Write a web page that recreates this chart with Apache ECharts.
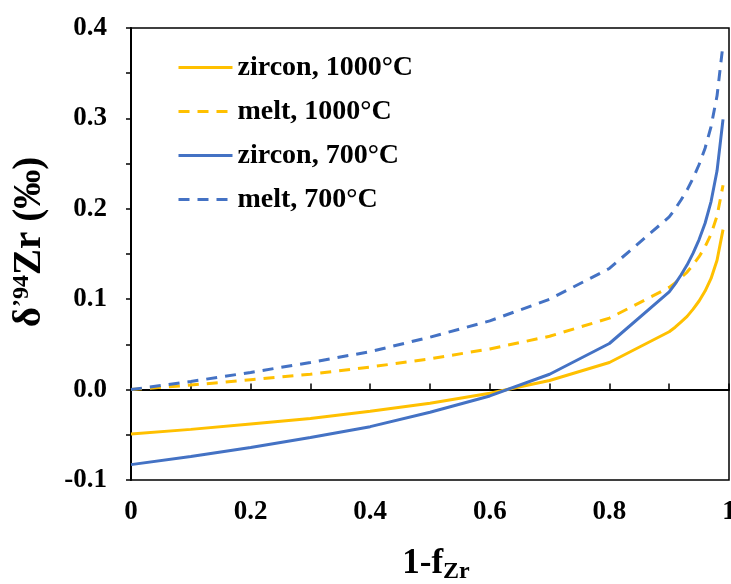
<!DOCTYPE html>
<html>
<head>
<meta charset="utf-8">
<script src="https://cdn.jsdelivr.net/npm/echarts@6/dist/echarts.min.js"></script>
<style>
html,body{margin:0;padding:0;background:#fff;}
#chart{width:731px;height:584px;}
</style>
</head>
<body>
<div id="chart"></div>
<script>
// x values: 1 - f_Zr
var xValues = [0, 0.1, 0.2, 0.3, 0.4, 0.5, 0.6, 0.7, 0.8, 0.9, 0.91, 0.92, 0.93, 0.94, 0.95, 0.96, 0.97, 0.98, 0.99];
// series values
var zircon1000 = [-0.049, -0.044, -0.038, -0.032, -0.024, -0.015, -0.004, 0.010, 0.030, 0.064, 0.069, 0.075, 0.081, 0.089, 0.098, 0.109, 0.123, 0.143, 0.177];
var melt1000   = [0, 0.005, 0.011, 0.017, 0.025, 0.034, 0.045, 0.059, 0.079, 0.113, 0.118, 0.124, 0.130, 0.138, 0.147, 0.158, 0.172, 0.192, 0.226];
var zircon700  = [-0.083, -0.074, -0.064, -0.053, -0.041, -0.025, -0.007, 0.017, 0.051, 0.108, 0.117, 0.127, 0.138, 0.151, 0.166, 0.184, 0.208, 0.242, 0.299];
var melt700    = [0, 0.009, 0.019, 0.030, 0.042, 0.058, 0.076, 0.100, 0.134, 0.191, 0.200, 0.210, 0.221, 0.234, 0.249, 0.267, 0.291, 0.325, 0.382];
var seriesNames = ['zircon, 1000°C', 'melt, 1000°C', 'zircon, 700°C', 'melt, 700°C'];

function pairs(ys) { return xValues.map(function (x, i) { return [x, ys[i]]; }); }

var FONT = '"Liberation Serif", "Times New Roman", serif';
var YELLOW = '#FFC000', BLUE = '#4472C4';

function mkSeries(name, ys, color, dashed, extra) {
  var s = {
    name: name, type: 'line', data: pairs(ys), symbol: 'none', showSymbol: false, smooth: false,
    lineStyle: { color: color, width: 3, type: dashed ? [11, 8] : 'solid', cap: 'butt' },
    itemStyle: { color: color }, z: 3
  };
  if (extra) for (var k in extra) s[k] = extra[k];
  return s;
}

var chart = echarts.init(document.getElementById('chart'), null, { renderer: 'canvas' });
chart.setOption({
  animation: false,
  backgroundColor: '#fff',
  grid: { left: 131, right: 2, top: 28, bottom: 104, outerBoundsMode: 'none', containLabel: false,
          show: true, borderColor: '#000', borderWidth: 1.5, backgroundColor: 'transparent' },
  legend: {
    orient: 'vertical', left: 172, top: 48, itemWidth: 54, itemHeight: 14, itemGap: 15,
    itemStyle: { color: 'rgba(0,0,0,0)', borderWidth: 0, opacity: 0 },
    lineStyle: { width: 3 },
    textStyle: { fontFamily: FONT, fontWeight: 'bold', fontSize: 28, color: '#000', lineHeight: 29 },
    data: seriesNames
  },
  xAxis: {
    type: 'value', min: 0, max: 1, interval: 0.1,
    axisLine: { show: true, lineStyle: { color: '#000', width: 2 } },
    axisTick: { show: true, inside: true, length: 6, lineStyle: { color: '#000', width: 1.5 } },
    splitLine: { show: false },
    axisLabel: {
      margin: 19, fontFamily: FONT, fontWeight: 'bold', fontSize: 27, color: '#000',
      formatter: function (v) {
        var k = Math.round(v * 10);
        if (k % 2 !== 0) return '';
        if (k === 0) return '0';
        if (k === 10) return '1';
        return (k / 10).toFixed(1);
      }
    },
    name: '{a|1-f}{sub|Zr}', nameLocation: 'middle', nameGap: 64,
    nameTextStyle: {
      padding: [0, 0, 0, 12],
      rich: {
        a: { fontFamily: FONT, fontWeight: 'bold', fontSize: 35, color: '#000' },
        sub: { fontFamily: FONT, fontWeight: 'bold', fontSize: 24, color: '#000', padding: [16, 0, 0, 0] }
      }
    }
  },
  yAxis: {
    type: 'value', min: -0.1, max: 0.4, interval: 0.05,
    axisLine: { show: true, lineStyle: { color: '#000', width: 2 } },
    axisTick: { show: true, inside: false, length: 5, lineStyle: { color: '#000', width: 1.5 } },
    splitLine: { show: false },
    axisLabel: {
      margin: 24, fontFamily: FONT, fontWeight: 'bold', fontSize: 27, color: '#000',
      formatter: function (v) {
        var k = Math.round(v * 20);
        if (k % 2 !== 0) return '';
        return (k / 20).toFixed(1);
      }
    },
    name: '{a|δ}{sup|\u201994}{a|Zr (‰)}', nameLocation: 'middle', nameGap: 81, nameRotate: 90,
    nameTextStyle: {
      padding: [0, 0, 0, 24],
      rich: {
        a: { fontFamily: FONT, fontWeight: 'bold', fontSize: 39, color: '#000' },
        sup: { fontFamily: FONT, fontWeight: 'bold', fontSize: 24, color: '#000', padding: [0, 0, 16, 0] }
      }
    }
  },
  series: [
    mkSeries(seriesNames[0], zircon1000, YELLOW, false, {
      markLine: {
        silent: true, symbol: 'none', label: { show: false },
        lineStyle: { color: '#000', width: 1.5, type: 'solid' },
        data: [{ yAxis: 0 }], z: 2
      }
    }),
    mkSeries(seriesNames[1], melt1000, YELLOW, true),
    mkSeries(seriesNames[2], zircon700, BLUE, false),
    mkSeries(seriesNames[3], melt700, BLUE, true)
  ]
});
</script>
</body>
</html>
